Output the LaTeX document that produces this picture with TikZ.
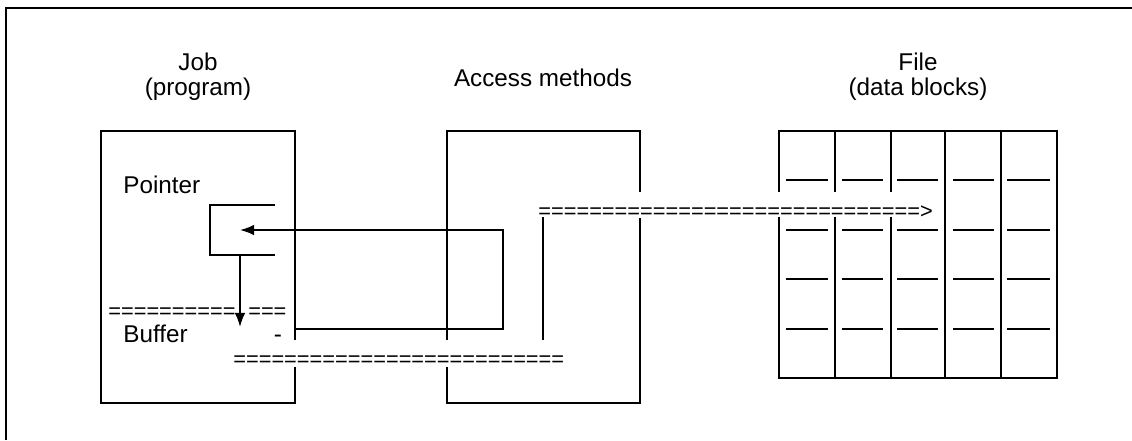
\documentclass[tikz,border=0pt]{standalone}
\usepackage{fontspec}
\setmainfont{Liberation Sans}
\usepackage{tikz}
\usetikzlibrary{arrows.meta}

\begin{document}
\begin{tikzpicture}[x=0.02cm, y=-0.02cm,
    wall/.style={line width=1pt},
    pointy/.style={line width=1pt, -{Latex[length=8pt,width=6pt]}},
    title/.style={font=\fontsize{13.8}{15}\selectfont, inner sep=0pt},
    txt/.style={font=\fontsize{13.8}{15}\selectfont, inner sep=0pt},
    eqrow/.style={font=\fontsize{12.4}{14}\selectfont, inner sep=0pt, anchor=base west}]

            \useasboundingbox (0,0) rectangle (1132,440);

            % Frame
            \draw[line width=1.2pt] (6,440) -- (6,8) -- (1132,8);

            % Titles
            \node[title, anchor=base] (jobt) at (198,70) {Job};
            \node[title, anchor=base] (jobs) at (198,95) {(program)};
            \node[title, anchor=base] (acct) at (543,86) {Access methods};
            \node[title, anchor=base] (filet) at (918,70) {File};
            \node[title, anchor=base] (files) at (918,95) {(data blocks)};

            % Job box
            \draw[wall] (295,340) -- (295,131) -- (101,131) -- (101,403) -- (295,403) -- (295,367);
            \node[txt, anchor=base west] (ptr) at (123,193) {Pointer};
            \node[txt, anchor=base west] (buf) at (123,342) {Buffer};
            \node[txt, anchor=base] (dash) at (278,342) {-};
            \draw[wall] (275,205) -- (210,205) -- (210,255) -- (275,255);

            % Access methods box
            \draw[wall] (447,340) -- (447,131) -- (640,131) -- (640,192);
            \draw[wall] (447,367) -- (447,403) -- (640,403) -- (640,218);
            \draw[wall] (543,217) -- (543,340);

            % File box
            \draw[wall] (779,192) -- (779,131) -- (1057,131) -- (1057,378) -- (779,378) -- (779,217);
            \draw[wall] (835,131) -- (835,192);
            \draw[wall] (835,217) -- (835,378);
            \draw[wall] (891,131) -- (891,192);
            \draw[wall] (891,217) -- (891,378);
            \draw[wall] (945,131) -- (945,378);
            \draw[wall] (1001,131) -- (1001,378);

            % Data blocks
            \draw[wall] (786,180) -- (828,180) (842,180) -- (883,180) (897,180) -- (938,180) (953,180) -- (994,180) (1007,180) -- (1050,180);
            \draw[wall] (786,230) -- (828,230) (842,230) -- (883,230) (897,230) -- (938,230) (953,230) -- (994,230) (1007,230) -- (1050,230);
            \draw[wall] (786,279) -- (828,279) (842,279) -- (883,279) (897,279) -- (938,279) (953,279) -- (994,279) (1007,279) -- (1050,279);
            \draw[wall] (786,329) -- (828,329) (842,329) -- (883,329) (897,329) -- (938,329) (953,329) -- (994,329) (1007,329) -- (1050,329);

            % Transfers
            \node[eqrow] (eqbuf) at (108,318) {==========\phantom{=}===};
            \node[eqrow] (eqlow) at (233,366) {==========================};
            \node[eqrow] (eqfile) at (538,218) {==============================>};

            % Pointer arrows
            \coordinate (bufout) at (295,329);
            \coordinate (ptrin) at (240,230);
            \coordinate (ptrout) at (240,255);
            \coordinate (bufin) at (240,327);
            \draw[pointy] (bufout) -- (503,329) |- (ptrin);
            \draw[pointy] (ptrout) -- (bufin);
        \end{tikzpicture}
\end{document}
